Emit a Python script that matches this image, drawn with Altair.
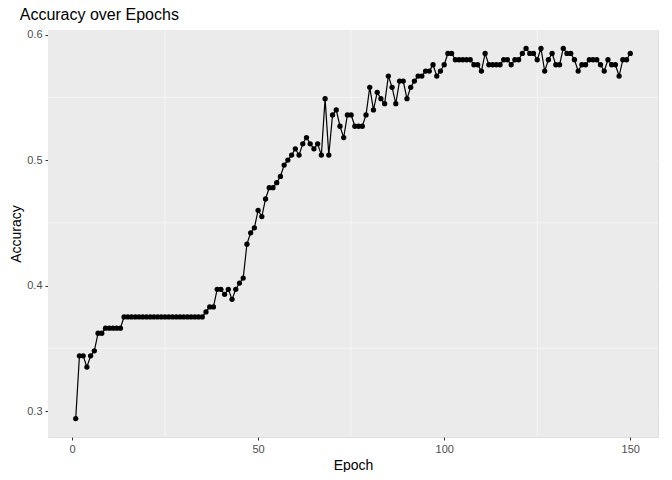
import altair as alt
import pandas as pd

runs = [
 (1,0.294),(2,0.344),(1,0.335),(1,0.344),(1,0.348),(2,0.362),(5,0.366),
 (22,0.375),(1,0.379),(2,0.383),(2,0.397),(1,0.393),(1,0.397),(1,0.389),(1,0.397),
 (1,0.402),(1,0.406),(1,0.433),(1,0.442),(1,0.446),(1,0.460),(1,0.455),(1,0.469),
 (2,0.478),(1,0.482),(1,0.487),(1,0.496),(1,0.500),(1,0.504),(1,0.509),(1,0.504),
 (1,0.513),(1,0.518),(1,0.513),(1,0.509),(1,0.513),(1,0.504),(1,0.549),(1,0.504),
 (1,0.536),(1,0.540),(1,0.527),(1,0.518),(2,0.536),(3,0.527),(1,0.536),(1,0.558),
 (1,0.540),(1,0.554),(1,0.549),(1,0.545),(1,0.567),(1,0.558),(1,0.545),(2,0.563),
 (1,0.549),(1,0.558),(1,0.563),(2,0.567),(2,0.571),(1,0.576),(1,0.567),(1,0.571),
 (1,0.576),(2,0.585),(5,0.580),(2,0.576),(1,0.571),(1,0.585),(4,0.576),(2,0.580),
 (1,0.576),(2,0.580),(1,0.585),(1,0.589),(2,0.585),(1,0.580),(1,0.589),(1,0.571),
 (1,0.580),(1,0.585),(2,0.576),(1,0.589),(2,0.585),(1,0.580),(1,0.571),(2,0.576),
 (3,0.580),(1,0.576),(1,0.571),(1,0.580),(2,0.576),(1,0.567),(2,0.580),(1,0.585),
]
accuracy = []
for n, v in runs:
    accuracy += [v] * n
accuracy = accuracy[:150]
while len(accuracy) < 150:
    accuracy.append(accuracy[-1])
epochs = list(range(1, 151))
df = pd.DataFrame({"Epoch": epochs, "Accuracy": accuracy})

minor_x = [25, 75, 125]
minor_y = [0.35, 0.45, 0.55]

xs = alt.Scale(domain=[-6.45, 157.45], nice=False, zero=False)
ys = alt.Scale(domain=[0.2793, 0.6037], nice=False, zero=False)

xax = alt.Axis(values=[0, 50, 100, 150], title="Epoch", grid=True, gridColor="white", gridWidth=1.1,
               domain=False, tickColor="#333333", tickSize=3, labelColor="#4D4D4D", labelFontSize=11,
               titleFontSize=14, titleFontWeight="normal", titleColor="black", labelPadding=3, titlePadding=4)
yax = alt.Axis(values=[0.3, 0.4, 0.5, 0.6], format=".1f", title="Accuracy", grid=True, gridColor="white",
               gridWidth=1.1, domain=False, tickColor="#333333", tickSize=3, labelColor="#4D4D4D",
               labelFontSize=11, titleFontSize=14, titleFontWeight="normal", titleColor="black",
               labelPadding=3, titlePadding=3)

bg = alt.Chart(pd.DataFrame({"v": [0]})).mark_rect(color="#EBEBEB").encode(
    x=alt.value(0), x2=alt.value(610), y=alt.value(0), y2=alt.value(407))
mx = alt.Chart(pd.DataFrame({"v": minor_x})).mark_rule(color="white", strokeWidth=0.5).encode(
    x=alt.X("v:Q", scale=xs, axis=xax))
my = alt.Chart(pd.DataFrame({"v": minor_y})).mark_rule(color="white", strokeWidth=0.5).encode(
    y=alt.Y("v:Q", scale=ys, axis=yax))
line = alt.Chart(df).mark_line(color="black", strokeWidth=1.2).encode(
    x=alt.X("Epoch:Q", scale=xs, axis=xax), y=alt.Y("Accuracy:Q", scale=ys, axis=yax))
pts = alt.Chart(df).mark_circle(color="black", opacity=1, size=28).encode(
    x=alt.X("Epoch:Q", scale=xs, axis=xax), y=alt.Y("Accuracy:Q", scale=ys, axis=yax))

chart = alt.layer(bg, mx, my, line, pts).properties(
    width=610, height=407,
    autosize=alt.AutoSizeParams(type="none"),
    padding={"left": 40, "top": 22, "right": 6, "bottom": 35},
    title=alt.TitleParams("Accuracy over Epochs", anchor="start", dx=10, fontSize=16,
                          fontWeight="normal", color="black", offset=6),
).configure_view(stroke=None).configure_axis(gridColor="white", zindex=0).configure(font="Liberation Sans")

chart.save("out.html", embed_options={"renderer": "svg", "actions": False})
